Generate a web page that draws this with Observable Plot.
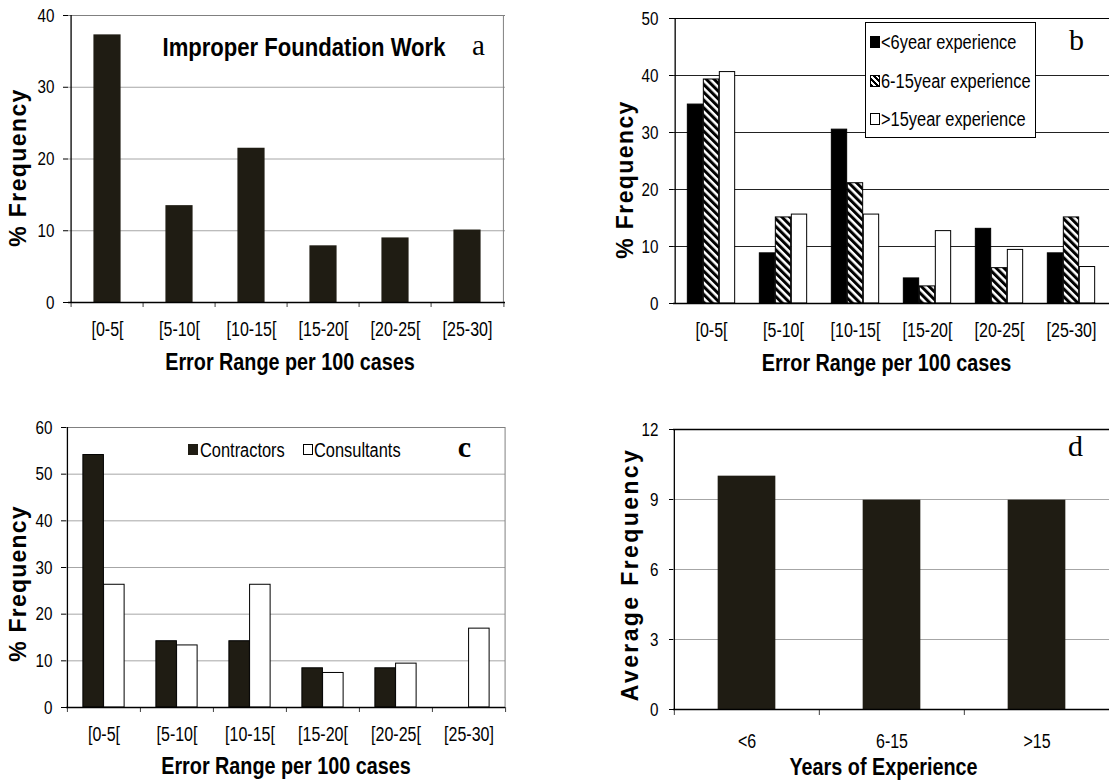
<!DOCTYPE html>
<html><head><meta charset="utf-8">
<script src="https://cdn.jsdelivr.net/npm/d3@7"></script>
<script src="https://cdn.jsdelivr.net/npm/@observablehq/plot@0.6"></script>
<style>
body{margin:0;background:#fff;}
#root{position:relative;width:1109px;height:782px;overflow:hidden;background:#fff;}
.panel{position:absolute;}
.lg{position:absolute;font-family:'Liberation Sans',Arial,sans-serif;font-size:20px;color:#000;line-height:1;white-space:nowrap;transform:scaleX(0.82);transform-origin:0 50%;}
.sw{position:absolute;box-sizing:border-box;}
</style></head><body><div id="root"></div>
<script>
// ---------- data ----------
const ranges = ["[0-5[", "[5-10[", "[10-15[", "[15-20[", "[20-25[", "[25-30]"];
const foundationPct = [37.3, 13.5, 21.5, 7.9, 9.0, 10.1];

const expGroups = ["<6year experience", "6-15year experience", ">15year experience"];
const expLt6 = [34.9, 8.8, 30.5, 4.4, 13.1, 8.8];
const exp6to15 = [39.3, 15.1, 21.1, 3.0, 6.2, 15.1];
const expGt15 = [40.6, 15.6, 15.6, 12.7, 9.4, 6.4];

const roles = ["Contractors", "Consultants"];
const contractorsPct = [54.1, 14.2, 14.2, 8.4, 8.4, 0];
const consultantsPct = [26.3, 13.3, 26.3, 7.4, 9.4, 16.9];

const yearsCats = ["<6", "6-15", ">15"];
const avgFreq = [10, 8.97, 8.97];

const ticksA = [0, 10, 20, 30, 40];
const ticksB = [0, 10, 20, 30, 40, 50];
const ticksC = [0, 10, 20, 30, 40, 50, 60];
const ticksD = [0, 3, 6, 9, 12];

const TITLE_A = "Improper Foundation Work";

// ---------- styles ----------
const SANS = "'Liberation Sans',Arial,sans-serif";
const SERIF = "'Liberation Serif','Times New Roman',serif";
const DARK = "#1f1c13";

const root = document.getElementById("root");

// squeeze regular sans text to imitate a narrow face
function squeeze(svg, rules) {
  svg.querySelectorAll("text").forEach(t => {
    const txt = t.textContent;
    let f = rules.hasOwnProperty(txt) ? rules[txt] : rules["*"];
    if (!f || f === 1) return;
    const L = t.getComputedTextLength();
    if (L > 0) {
      t.setAttribute("textLength", (L * f).toFixed(2));
      t.setAttribute("lengthAdjust", "spacingAndGlyphs");
    }
  });
}
// squeeze by wrapping in a scaled group (keeps the left edge fixed)
function squeezeGroup(svg, txt, f) {
  svg.querySelectorAll("text").forEach(t => {
    if (t.textContent !== txt) return;
    const r = t.getBoundingClientRect();
    const pt = svg.createSVGPoint();
    pt.x = r.left; pt.y = r.top;
    const local = pt.matrixTransform(t.parentNode.getScreenCTM().inverse());
    const x0 = local.x;
    const g = document.createElementNS("http://www.w3.org/2000/svg", "g");
    g.setAttribute("transform", `translate(${x0},0) scale(${f},1) translate(${-x0},0)`);
    t.parentNode.insertBefore(g, t);
    g.appendChild(t);
  });
}

function panel(o) {
  const n = o.cats.length;
  const bw = (o.width - o.ml - o.mr) / n;
  const ymax = o.yTicks[o.yTicks.length - 1];
  const marks = [];
  if (o.defs) marks.push(o.defs);
  marks.push(Plot.ruleY(o.yTicks.filter(t => t > 0 && t < ymax), {stroke: o.gridColor, strokeWidth: o.gridWidth || 1}));
  marks.push(Plot.ruleY([ymax], {stroke: o.topColor, strokeWidth: o.topWidth || 1}));
  if (o.rightBorder) marks.push(Plot.ruleX([o.cats[n - 1]], {x: d => d, dx: bw / 2 - 0.5, stroke: o.rightBorder}));
  const ns = o.series.length;
  o.series.forEach((s, k) => {
    const data = o.cats.map((c, i) => ({cat: c, v: s.values[i]}));
    const inset = (bw - o.barW) / 2;
    marks.push(Plot.barY(data.filter(d => d.v > 0), {
      x: "cat", y: "v", fill: s.fill, stroke: s.stroke || "none", strokeWidth: 1,
      insetLeft: inset, insetRight: inset, dx: (k - (ns - 1) / 2) * o.barW
    }));
  });
  if (o.xTickLen) {
    marks.push(Plot.ruleX(o.cats, {x: d => d, dx: -bw / 2, y1: 0, y2: 0, insetBottom: -o.xTickLen, stroke: o.xTickColor || "#000"}));
    marks.push(Plot.ruleX([o.cats[n - 1]], {x: d => d, dx: bw / 2, y1: 0, y2: 0, insetBottom: -o.xTickLen, stroke: o.xTickColor || "#000"}));
  }
  marks.push(Plot.ruleX([o.cats[0]], {x: d => d, dx: -bw / 2, stroke: "#000", strokeWidth: 1.3}));
  marks.push(Plot.ruleY([0], {stroke: "#000", strokeWidth: 1.5}));
  marks.push(Plot.axisY({ticks: o.yTicks, tickSize: o.yTickSize, tickPadding: o.yTickPad, label: null, fontSize: 19, fontFamily: SANS, stroke: "#000"}));
  marks.push(Plot.axisX({tickSize: 0, tickPadding: o.xTickPad, label: null, fontSize: 20, fontFamily: SANS}));
  marks.push(Plot.text([o.xLabel], {text: d => d, frameAnchor: "bottom", textAnchor: "middle", lineAnchor: "middle",
    dy: o.xLabelDy, dx: o.xLabelDx || 0, fontSize: 23, fontWeight: "bold", fontFamily: SANS}));
  marks.push(Plot.text([o.yLabel], {text: d => d, frameAnchor: "left", textAnchor: "middle", lineAnchor: "middle",
    rotate: -90, dx: o.yLabelDx, dy: o.yLabelDy, fontSize: 23, fontWeight: "bold", fontFamily: SANS}));
  marks.push(Plot.text([o.letter], {text: d => d, frameAnchor: "top-right", textAnchor: "middle", lineAnchor: "middle",
    dx: o.letterDx, dy: o.letterDy, fontSize: o.letterSize || 30, fontFamily: SERIF, fontWeight: o.letterWeight || "normal"}));
  if (o.extra) marks.push(...o.extra);

  const svg = Plot.plot({
    width: o.width, height: o.height,
    marginLeft: o.ml, marginRight: o.mr, marginTop: o.mt, marginBottom: o.mb,
    x: {domain: o.cats, padding: 0},
    y: {domain: [0, ymax]},
    style: {fontFamily: SANS, fontSize: "20px", background: "transparent", overflow: "visible", color: "#000"},
    marks
  });
  svg.classList.add("panel");
  svg.style.left = o.left + "px";
  svg.style.top = o.top + "px";
  root.appendChild(svg);
  svg.querySelectorAll("text").forEach(t => {
    if (t.textContent === o.yLabel) t.style.letterSpacing = o.yLetterSpacing + "px";
  });
  const rules = {"*": 0.8};
  rules[o.yLabel] = 1;
  rules[o.letter] = 1;
  rules[o.xLabel] = 0.86;
  rules[TITLE_A] = 1;
  squeeze(svg, rules);
  squeezeGroup(svg, TITLE_A, 0.85);
}

// Panel a
panel({
  left: 0, top: 0, width: 555, height: 390, ml: 68, mr: 50, mt: 15, mb: 88,
  cats: ranges, yTicks: ticksA, gridColor: "#a6a6a6", topColor: "#808080", rightBorder: "#808080",
  series: [{values: foundationPct, fill: DARK}], barW: 28,
  xTickLen: 5, xTickColor: "#404040", yTickSize: 5, yTickPad: 9, xTickPad: 19,
  xLabel: "Error Range per 100 cases", xLabelDy: 60, xLabelDx: 3,
  yLabel: "% Frequency", yLabelDx: -50, yLabelDy: 8.5, yLetterSpacing: 1.4,
  letter: "a", letterDx: -27, letterDy: 30, letterSize: 29,
  extra: [Plot.text([TITLE_A], {text: d => d, frameAnchor: "top-left", textAnchor: "start", lineAnchor: "middle",
    dx: 94, dy: 32, fontSize: 26, fontWeight: "bold", fontFamily: SANS})]
});

// Panel b
const hatchDefs = () => {
  const s = d3.create("svg:defs");
  const p = s.append("pattern").attr("id", "hatchB").attr("patternUnits", "userSpaceOnUse")
    .attr("width", 5.5).attr("height", 5.5).attr("patternTransform", "rotate(-45)");
  p.append("rect").attr("width", 5.5).attr("height", 5.5).attr("fill", "#fff");
  p.append("rect").attr("width", 3).attr("height", 5.5).attr("fill", "#000");
  return s.node();
};
panel({
  left: 555, top: 0, width: 554, height: 390, ml: 118, mr: 0, mt: 18, mb: 87,
  cats: ranges, yTicks: ticksB, gridColor: "#222", topColor: "#000", rightBorder: null, defs: hatchDefs,
  series: [{values: expLt6, fill: "#000", stroke: "#000"}, {values: exp6to15, fill: "url(#hatchB)", stroke: "#000"},
           {values: expGt15, fill: "#fff", stroke: "#000"}], barW: 16,
  xTickLen: 0, yTickSize: 4, yTickPad: 11, xTickPad: 19,
  xLabel: "Error Range per 100 cases", xLabelDy: 60, xLabelDx: -5,
  yLabel: "% Frequency", yLabelDx: -48, yLabelDy: 18.5, yLetterSpacing: 1.4,
  letter: "b", letterDx: -33, letterDy: 21.5
});

// Panel c
panel({
  left: 0, top: 390, width: 555, height: 392, ml: 66, mr: 50, mt: 37, mb: 75,
  cats: ranges, yTicks: ticksC, gridColor: "#a6a6a6", topColor: "#808080", rightBorder: "#808080",
  series: [{values: contractorsPct, fill: DARK, stroke: "#000"}, {values: consultantsPct, fill: "#fff", stroke: "#000"}], barW: 20.7,
  xTickLen: 5, xTickColor: "#404040", yTickSize: 5, yTickPad: 9, xTickPad: 19,
  xLabel: "Error Range per 100 cases", xLabelDy: 59.5, xLabelDx: 0,
  yLabel: "% Frequency", yLabelDx: -48, yLabelDy: 16, yLetterSpacing: 1.2,
  letter: "c", letterDx: -41, letterDy: 19.5, letterWeight: "bold"
});

// Panel d
panel({
  left: 555, top: 390, width: 554, height: 392, ml: 118, mr: 0, mt: 39, mb: 73,
  cats: yearsCats, yTicks: ticksD, gridColor: "#a6a6a6", topColor: "#000", topWidth: 1.6, rightBorder: null,
  series: [{values: avgFreq, fill: DARK}], barW: 58,
  xTickLen: 6, xTickColor: "#404040", yTickSize: 4, yTickPad: 11, xTickPad: 24,
  xLabel: "Years of Experience", xLabelDy: 58, xLabelDx: -8,
  yLabel: "Average Frequency", yLabelDx: -43, yLabelDy: 5, yLetterSpacing: 2.4,
  letter: "d", letterDx: -34, letterDy: 17
});

// ---------- legends ----------
function legendB() {
  const box = document.createElement("div");
  box.style.cssText = "position:absolute;left:865px;top:22px;width:171px;height:116px;box-sizing:border-box;border:1px solid #000;background:#fff;";
  root.appendChild(box);
  const fills = ["#000", "repeating-linear-gradient(45deg,#000 0 2px,#fff 2px 4px)", "#fff"];
  const ys = [41.7, 80.7, 119];
  expGroups.forEach((g, i) => {
    const sw = document.createElement("div");
    sw.className = "sw";
    sw.style.cssText += `left:870px;top:${ys[i] - 6}px;width:10px;height:12px;background:${fills[i]};border:1px solid #000;`;
    root.appendChild(sw);
    const t = document.createElement("div");
    t.className = "lg";
    t.textContent = g;
    t.style.left = "881px";
    t.style.top = (ys[i] - 10) + "px";
    root.appendChild(t);
  });
}
legendB();

function legendC() {
  const fills = [DARK, "#fff"];
  const sx = [188, 303], tx = [200, 314];
  roles.forEach((r, i) => {
    const sw = document.createElement("div");
    sw.className = "sw";
    sw.style.cssText += `left:${sx[i]}px;top:444px;width:10px;height:11px;background:${fills[i]};border:1px solid ${i ? "#000" : DARK};`;
    root.appendChild(sw);
    const t = document.createElement("div");
    t.className = "lg";
    t.textContent = r;
    t.style.left = tx[i] + "px";
    t.style.top = "440px";
    root.appendChild(t);
  });
}
legendC();
</script></body></html>
